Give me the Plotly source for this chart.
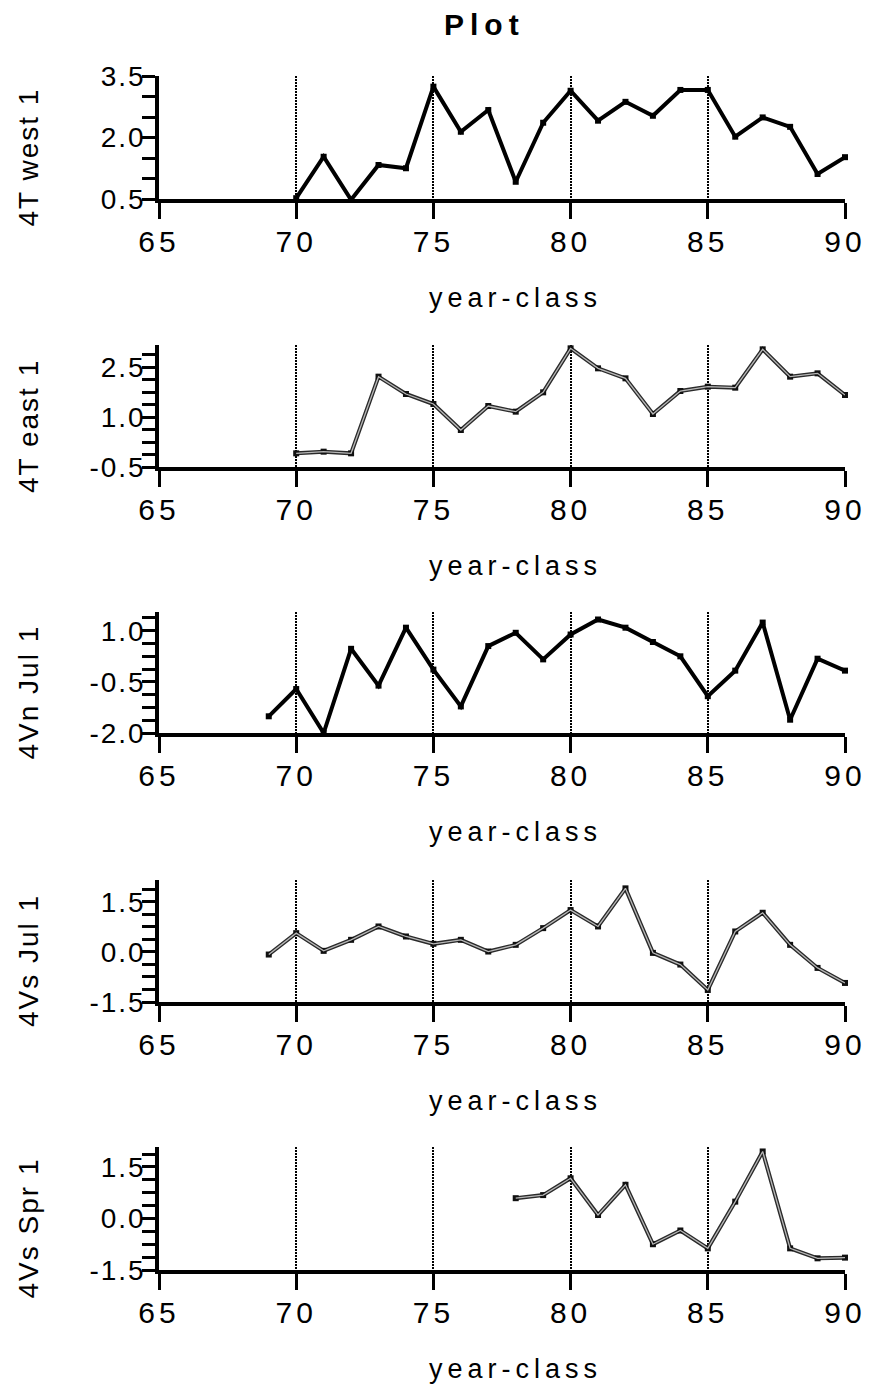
import plotly.graph_objects as go

# page body has an 8px margin; the figure is sized to fill the rest of the window
OFF = 8
W, H = 872 - OFF, 1391 - OFF

# ---------------- data ----------------
years_4t_west = list(range(70, 91))
vals_4t_west = [0.52, 1.53, 0.48, 1.33, 1.25, 3.24, 2.14, 2.67, 0.92, 2.36, 3.14,
                2.41, 2.87, 2.53, 3.16, 3.16, 2.02, 2.49, 2.26, 1.11, 1.52]

years_4t_east = list(range(70, 91))
vals_4t_east = [-0.09, -0.04, -0.09, 2.21, 1.69, 1.39, 0.61, 1.33, 1.16, 1.74, 3.06,
                2.46, 2.16, 1.09, 1.78, 1.91, 1.88, 3.03, 2.21, 2.31, 1.66]

years_4vn_jul = list(range(69, 91))
vals_4vn_jul = [-1.51, -0.71, -2.0, 0.47, -0.61, 1.09, -0.14, -1.22, 0.55, 0.94, 0.16,
                0.89, 1.33, 1.09, 0.67, 0.25, -0.92, -0.17, 1.24, -1.61, 0.18, -0.17]

years_4vs_jul = list(range(69, 91))
vals_4vs_jul = [-0.08, 0.56, 0.03, 0.36, 0.76, 0.46, 0.24, 0.36, 0.01, 0.21, 0.71,
                1.25, 0.76, 1.90, -0.03, -0.38, -1.14, 0.61, 1.17, 0.21, -0.48, -0.93]

years_4vs_spr = list(range(78, 91))
vals_4vs_spr = [0.59, 0.68, 1.17, 0.10, 0.98, -0.75, -0.35, -0.87, 0.49, 1.95,
                -0.87, -1.16, -1.14]

panel_titles = ["4T west 1", "4T east 1", "4Vn Jul 1", "4Vs Jul 1", "4Vs Spr 1"]

ytick_vals_4t_west = [0.5, 2.0, 3.5]
ytick_vals_4t_east = [-0.5, 1.0, 2.5]
ytick_vals_4vn_jul = [-2.0, -0.5, 1.0]
ytick_vals_4vs_jul = [-1.5, 0.0, 1.5]
ytick_vals_4vs_spr = [-1.5, 0.0, 1.5]

ytick_text_4t_west = ["0.5", "2.0", "3.5"]
ytick_text_4t_east = ["-0.5", "1.0", "2.5"]
ytick_text_4vn_jul = ["-2.0", "-0.5", "1.0"]
ytick_text_4vs_jul = ["-1.5", "0.0", "1.5"]
ytick_text_4vs_spr = ["-1.5", "0.0", "1.5"]

xtick_vals = [65, 70, 75, 80, 85, 90]
xtick_text = ["65", "70", "75", "80", "85", "90"]
x_title = "year-class"
main_title = "Plot"

# ---------------- layout helpers ----------------
FONT = "Liberation Sans, Arial, Helvetica, sans-serif"

def sp(text, px):
    return '<span style="letter-spacing:%spx">%s</span>' % (px, text)

def px_x(x):   # window pixel -> paper fraction
    return (x - OFF) / W

def px_y(y):
    return 1 - (y - OFF) / H

panels = [
    dict(x=years_4t_west, y=vals_4t_west, style="bold", top=76, bot=199,
         yr=[0.5, 3.5], tv=ytick_vals_4t_west, tt=ytick_text_4t_west, minor=0.5),
    dict(x=years_4t_east, y=vals_4t_east, style="hollow", top=345, bot=467,
         yr=[-0.5, 3.16], tv=ytick_vals_4t_east, tt=ytick_text_4t_east, minor=0.375),
    dict(x=years_4vn_jul, y=vals_4vn_jul, style="bold", top=612, bot=733,
         yr=[-2.0, 1.55], tv=ytick_vals_4vn_jul, tt=ytick_text_4vn_jul, minor=0.375),
    dict(x=years_4vs_jul, y=vals_4vs_jul, style="hollow", top=880, bot=1002,
         yr=[-1.5, 2.15], tv=ytick_vals_4vs_jul, tt=ytick_text_4vs_jul, minor=0.375),
    dict(x=years_4vs_spr, y=vals_4vs_spr, style="hollow", top=1147, bot=1270,
         yr=[-1.5, 2.08], tv=ytick_vals_4vs_spr, tt=ytick_text_4vs_spr, minor=0.375),
]

X_LEFT, X_RIGHT = 159, 845

fig = go.Figure()
layout = dict(
    width=W, height=H,
    margin=dict(l=0, r=0, t=0, b=0, pad=0, autoexpand=False),
    paper_bgcolor="white", plot_bgcolor="white",
    showlegend=False,
    font=dict(family=FONT, color="black"),
)
annotations = []

for i, p in enumerate(panels, start=1):
    xa = "x" if i == 1 else "x%d" % i
    ya = "y" if i == 1 else "y%d" % i
    if p["style"] == "bold":
        fig.add_trace(go.Scatter(
            x=p["x"], y=p["y"], xaxis=xa, yaxis=ya, mode="lines+markers",
            line=dict(color="black", width=4),
            marker=dict(symbol="square", size=6, color="black"),
            cliponaxis=False, hoverinfo="skip"))
    else:
        fig.add_trace(go.Scatter(
            x=p["x"], y=p["y"], xaxis=xa, yaxis=ya, mode="lines+markers",
            line=dict(color="#2a2a2a", width=4),
            marker=dict(symbol="square", size=6, color="#111"),
            cliponaxis=False, hoverinfo="skip"))
        fig.add_trace(go.Scatter(
            x=p["x"], y=p["y"], xaxis=xa, yaxis=ya, mode="lines",
            line=dict(color="#b8b8b8", width=1.3),
            cliponaxis=False, hoverinfo="skip"))

    ydom = [px_y(p["bot"]), px_y(p["top"])]
    layout["xaxis" if i == 1 else "xaxis%d" % i] = dict(
        domain=[px_x(X_LEFT), px_x(X_RIGHT)], anchor=ya, automargin=False,
        range=[65, 90], tickvals=xtick_vals, ticktext=[sp(t, 4) for t in xtick_text],
        showline=True, linecolor="black", linewidth=3.5,
        ticks="outside", ticklen=16, tickwidth=3, tickcolor="black",
        tickfont=dict(family=FONT, size=30, color="black"),
        ticklabelstandoff=-3,
        showgrid=True, gridcolor="black", gridwidth=2, griddash="2px,1px",
        zeroline=False, fixedrange=True)
    layout["yaxis" if i == 1 else "yaxis%d" % i] = dict(
        domain=ydom, anchor=xa, range=p["yr"], automargin=False,
        tickvals=p["tv"], ticktext=[sp(t, 2) for t in p["tt"]],
        showline=True, linecolor="black", linewidth=3.5,
        ticks="outside", ticklen=13, tickwidth=3, tickcolor="black",
        minor=dict(ticks="outside", ticklen=13, tickwidth=2.5, tickcolor="black",
                   tick0=p["yr"][0], dtick=p["minor"], showgrid=False),
        tickfont=dict(family=FONT, size=28, color="black"),
        ticklabelstandoff=-9,
        showgrid=False, zeroline=False, fixedrange=True)

    # y-axis title
    annotations.append(dict(
        text=sp(panel_titles[i - 1], 2), textangle=-90,
        x=px_x(28), y=px_y((p["bot"] + p["top"] + 40) / 2),
        xref="paper", yref="paper", xanchor="center", yanchor="middle",
        showarrow=False, font=dict(family=FONT, size=28, color="black")))
    # x-axis title
    annotations.append(dict(
        text=sp(x_title, 5), x=px_x(515), y=px_y(p["bot"] + 99),
        xref="paper", yref="paper", xanchor="center", yanchor="middle",
        showarrow=False, font=dict(family=FONT, size=27, color="black")))

annotations.append(dict(
    text="<b>" + sp(main_title, 6) + "</b>", x=px_x(484), y=px_y(25),
    xref="paper", yref="paper", xanchor="center", yanchor="middle",
    showarrow=False, font=dict(family=FONT, size=30, color="black")))

layout["annotations"] = annotations
fig.update_layout(**layout)
fig.write_html("out.html")
